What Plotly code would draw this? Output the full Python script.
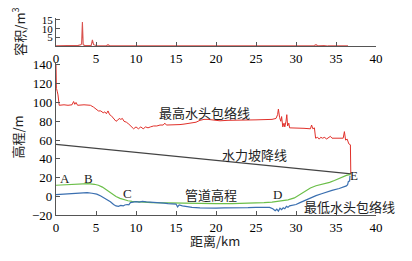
import plotly.graph_objects as go

# Volume (top panel)
vol_x = [0, 1, 2, 2.8, 3.1, 3.2, 3.3, 3.4, 3.6, 4.4, 4.55, 4.7, 5.0, 6.3, 6.5, 6.7, 10, 15, 20, 25, 30, 32.3, 32.5, 32.7, 33.5, 34, 36.5]
vol_y = [0.3, 0.3, 0.4, 0.6, 1.0, 1.5, 13.8, 1.0, 0.5, 0.6, 3.7, 1.0, 0.5, 0.4, 1.0, 0.4, 0.3, 0.3, 0.3, 0.3, 0.3, 0.5, 1.0, 0.4, 0.5, 0.3, 0.3]

# Max head envelope
max_x = [0, 0.05, 0.15, 0.25, 0.4, 1.0, 1.5, 2.0, 2.2, 2.35, 2.5, 2.7, 3.5, 4.3, 4.7, 5.0, 5.3, 5.6, 5.9, 6.1, 6.3, 6.5, 6.7, 6.9, 7.1, 7.3, 7.5, 7.7, 7.9, 8.1, 8.3, 8.5, 8.8, 9.1, 9.4, 9.7, 10.0, 10.3, 10.6, 10.9, 11.2, 11.5, 11.8, 12.2, 12.6, 13.0, 13.4, 13.6, 13.8, 14.5, 15.0, 15.5, 16.0, 16.5, 17.0, 17.5, 18.0, 18.5, 19.0, 19.5, 20.0, 20.5, 21.5, 23.0, 25.0, 27.0, 27.5, 27.7, 27.8, 27.95, 28.1, 28.2, 28.35, 28.5, 28.6, 28.75, 28.85, 28.95, 29.1, 29.2, 29.5, 30.0, 31.0, 31.8, 31.95, 32.1, 32.3, 32.45, 32.7, 32.9, 33.1, 33.3, 33.6, 33.8, 34.0, 34.3, 34.5, 35.0, 35.5, 35.9, 36.05, 36.2, 36.4, 36.6, 36.8, 36.85]
max_y = [140, 115, 112, 108, 97, 97.5, 97, 97.5, 101, 98, 100, 97, 97.5, 97, 95, 93, 91, 91, 89, 90, 88, 91, 87, 86, 84, 82, 80, 81, 83, 82, 83, 80, 79, 77, 74, 72, 74, 72, 74, 72, 74, 73, 74, 75, 75, 76, 76, 78, 76, 76, 76, 76.5, 77, 77.5, 78, 79, 81, 82, 82, 81.5, 81, 80.5, 81, 81, 81.5, 82, 83, 87, 93, 84, 80, 85, 74, 78, 74, 80, 87, 75, 78, 73, 73, 72.5, 72.5, 72, 76, 72, 73, 62, 63, 61, 63, 62, 63, 61, 62, 64, 62, 62, 62, 62, 69, 60, 61, 56, 55, 24]

# Hydraulic gradient line
grad_x = [0, 36.9]
grad_y = [55.5, 24]

# Pipeline elevation
pipe_x = [0, 1, 2, 3, 4, 4.8, 5.3, 5.8, 6.2, 6.6, 7.0, 7.5, 8.0, 8.5, 9.0, 9.5, 10.5, 12, 14, 16, 18, 20, 22, 24, 26, 27, 28, 29, 29.8, 30.5, 31.2, 31.8, 32.5, 33.3, 34.2, 34.8, 35.4, 35.9, 36.3, 36.8]
pipe_y = [12, 12.5, 13, 13.5, 13.8, 13, 12, 10, 7.5, 5, 2.5, 0, -2, -3.5, -4.5, -5.2, -6, -6.5, -6.8, -7.2, -7.6, -7.6, -7.5, -7.3, -6.5, -6, -5, -3.5, -1.5, 2, 6, 9, 11.5, 13, 15, 17, 19.5, 21, 22.5, 23.5]

# Min head envelope
min_x = [0, 1, 2, 3, 3.9, 4.5, 5.1, 5.6, 6.0, 6.4, 6.8, 7.2, 7.5, 7.8, 8.1, 8.4, 8.6, 8.9, 9.1, 9.3, 9.6, 10.0, 10.4, 10.8, 11.3, 12, 12.5, 13, 13.5, 14, 14.5, 15.0, 15.2, 15.4, 15.8, 16.4, 17, 18, 18.8, 20, 21, 22, 23, 24, 25, 26, 26.7, 27.1, 27.4, 27.6, 27.8, 28.0, 28.2, 28.4, 28.6, 28.8, 29.0, 29.2, 29.5, 30, 30.5, 31, 31.5, 32, 32.5, 33.2, 33.8, 34.5, 35.4, 35.9, 36.3, 36.45, 36.55, 36.7, 36.75]
min_y = [2, 2.5, 3.2, 3.8, 4.2, 3.5, 2.5, 0.5, -1.5, -3.5, -5.5, -8.5, -10, -10.5, -9.5, -10, -9, -8.5, -8.8, -6.5, -6, -5.5, -6, -5.2, -5.8, -6, -6.5, -6.8, -7, -7.5, -7.6, -8, -11, -9, -10, -11, -11.5, -12, -12.4, -12.3, -12, -12.2, -12, -11.8, -11.5, -11.3, -11.5, -13, -15, -13.5, -15.5, -12.5, -14, -12, -13, -10.5, -11.5, -10, -9.5, -8.5, -6.5, -4.5, -2.5, -0.5, 1, 3, 5, 6.5, 8.5, 10, 11.3, 12.5, 16, 16.5, 22]

x_ticks = [0, 5, 10, 15, 20, 25, 30, 35, 40]
vol_ticks = [5, 10, 15]
elev_ticks = [-20, 0, 20, 40, 60, 80, 100, 120, 140]

SERIF = "Liberation Serif"
CJK = "Noto Sans CJK SC"
AX = "#555555"

fig = go.Figure()
fig.add_trace(go.Scatter(x=vol_x, y=vol_y, mode="lines", line=dict(color="#d9534f", width=1.1), xaxis="x", yaxis="y"))
fig.add_trace(go.Scatter(x=max_x, y=max_y, mode="lines", line=dict(color="#e0302a", width=1), xaxis="x2", yaxis="y2"))
fig.add_trace(go.Scatter(x=grad_x, y=grad_y, mode="lines", line=dict(color="#444444", width=1.2), xaxis="x2", yaxis="y2"))
fig.add_trace(go.Scatter(x=pipe_x, y=pipe_y, mode="lines", line=dict(color="#6cbf4a", width=1.2), xaxis="x2", yaxis="y2"))
fig.add_trace(go.Scatter(x=min_x, y=min_y, mode="lines", line=dict(color="#3a6fb0", width=1.2), xaxis="x2", yaxis="y2"))

def axcommon(size=13):
    return dict(showgrid=False, zeroline=False, showline=True, linecolor=AX, linewidth=1.2,
                ticks="inside", ticklen=4, tickcolor=AX,
                tickfont=dict(family=SERIF, size=size, color="black"))

fig.update_layout(
    width=412, height=261,
    margin=dict(l=56, r=36, t=0, b=0),
    paper_bgcolor="white", plot_bgcolor="white",
    showlegend=False,
    xaxis=dict(domain=[0, 1], range=[0, 40], tickvals=x_ticks, anchor="y", **axcommon()),
    yaxis=dict(domain=[0.8295, 0.943], range=[0, 16], tickvals=vol_ticks, anchor="x", **axcommon(11)),
    xaxis2=dict(domain=[0, 1], range=[0, 40], tickvals=x_ticks, anchor="y2", **axcommon()),
    yaxis2=dict(domain=[0.1513, 0.767], range=[-20, 143], tickvals=elev_ticks, anchor="x2", **axcommon()),
)

def ann(text, x, y, size=13, font=CJK, angle=0, xanchor="left"):
    fig.add_annotation(text=text, x=x, y=y, xref="paper", yref="paper", showarrow=False,
                       xanchor=xanchor, yanchor="middle", textangle=angle,
                       font=dict(family=font, size=size, color="#222222"))

W, H, L = 412.0, 261.0, 56.0
PW = W - 56 - 36

def px(xp, yp):
    return (xp - L) / PW, (H - yp) / H

def at(text, xp, yp, **kw):
    x, y = px(xp, yp)
    ann(text, x, y, **kw)

at("容积/m<sup>3</sup>", 18, 29, size=13, angle=-90, xanchor="center")
at("高程/m", 18, 140, size=13, angle=-90, xanchor="center")
at("距离/km", 215, 248, size=13, xanchor="center")
at("最高水头包络线", 157, 114)
at("水力坡降线", 220, 158)
at("管道高程", 183, 200)
at("最低水头包络线", 302, 212)
at("A", 58, 183, font=SERIF)
at("B", 82, 183, font=SERIF)
at("C", 121, 199, font=SERIF)
at("D", 271, 200, font=SERIF)
at("E", 348, 180, font=SERIF)

fig.write_html("out.html")
